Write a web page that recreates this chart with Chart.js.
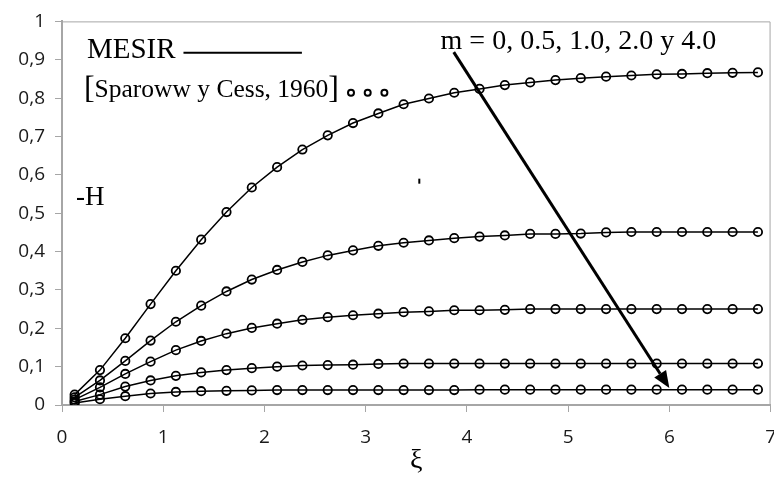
<!DOCTYPE html>
<html>
<head>
<meta charset="utf-8">
<script src="https://cdn.jsdelivr.net/npm/chart.js@4/dist/chart.umd.min.js"></script>
<style>
  html, body { margin: 0; padding: 0; background: #fff; overflow: hidden; }
  #wrap { width: 790px; height: 478px; }
</style>
</head>
<body>
<div id="wrap"><canvas id="heatChart" width="790" height="478"></canvas></div>
<script>
// xi positions of the computed points
const xi = [0.125, 0.375, 0.625, 0.875, 1.125, 1.375, 1.625, 1.875, 2.125, 2.375,
            2.625, 2.875, 3.125, 3.375, 3.625, 3.875, 4.125, 4.375, 4.625, 4.875,
            5.125, 5.375, 5.625, 5.875, 6.125, 6.375, 6.625, 6.875];

// -H for each m
const hM0 = [0.027, 0.091, 0.174, 0.263, 0.350, 0.431, 0.503, 0.567, 0.620, 0.666,
             0.703, 0.735, 0.760, 0.784, 0.799, 0.814, 0.824, 0.834, 0.841, 0.847,
             0.852, 0.856, 0.859, 0.862, 0.863, 0.865, 0.866, 0.867];
const hM05 = [0.020, 0.064, 0.115, 0.168, 0.217, 0.259, 0.296, 0.327, 0.352, 0.373,
              0.390, 0.403, 0.415, 0.423, 0.429, 0.435, 0.439, 0.442, 0.446, 0.446,
              0.447, 0.450, 0.451, 0.451, 0.451, 0.451, 0.451, 0.451];
const hM1 = [0.014, 0.046, 0.081, 0.113, 0.143, 0.167, 0.186, 0.201, 0.212, 0.222,
             0.229, 0.234, 0.238, 0.242, 0.244, 0.247, 0.247, 0.248, 0.250, 0.250,
             0.250, 0.250, 0.250, 0.250, 0.250, 0.250, 0.250, 0.250];
const hM2 = [0.009, 0.027, 0.048, 0.064, 0.076, 0.085, 0.091, 0.096, 0.100, 0.103,
             0.104, 0.105, 0.107, 0.108, 0.108, 0.108, 0.108, 0.108, 0.108, 0.108,
             0.108, 0.108, 0.108, 0.108, 0.108, 0.108, 0.108, 0.108];
const hM4 = [0.005, 0.015, 0.023, 0.030, 0.034, 0.036, 0.037, 0.038, 0.039, 0.039,
             0.039, 0.039, 0.039, 0.039, 0.039, 0.039, 0.040, 0.040, 0.040, 0.040,
             0.040, 0.040, 0.040, 0.040, 0.040, 0.040, 0.040, 0.040];

const seriesLabels = ['m = 0', 'm = 0.5', 'm = 1.0', 'm = 2.0', 'm = 4.0'];
const seriesValues = [hM0, hM05, hM1, hM2, hM4];

const xTicks = [0, 1, 2, 3, 4, 5, 6, 7];
const yTicks = [0, 0.1, 0.2, 0.3, 0.4, 0.5, 0.6, 0.7, 0.8, 0.9, 1];

const serif = "'Liberation Serif', 'Times New Roman', serif";

// frame + text annotations drawn on top of the plot
const notes = {
    id: 'notes',
    afterDraw(chart) {
        const { ctx, chartArea: a, scales } = chart;
        const px = v => scales.x.getPixelForValue(v);
        const py = v => scales.y.getPixelForValue(v);
        ctx.save();

        // top and right edges of the plot box
        ctx.strokeStyle = '#a6a6a6';
        ctx.lineWidth = 1;
        ctx.beginPath();
        ctx.moveTo(a.left, a.top + 0.5);
        ctx.lineTo(a.right - 0.5, a.top + 0.5);
        ctx.lineTo(a.right - 0.5, a.bottom);
        ctx.stroke();

        ctx.fillStyle = '#000';
        ctx.strokeStyle = '#000';
        ctx.textBaseline = 'alphabetic';
        ctx.textAlign = 'left';

        // MESIR ———
        ctx.font = '29px ' + serif;
        ctx.fillText('MESIR', px(0.246), py(0.905));
        ctx.lineWidth = 2;
        ctx.beginPath();
        ctx.moveTo(px(1.20), py(0.918));
        ctx.lineTo(px(2.37), py(0.918));
        ctx.stroke();

        // [Sparoww y Cess, 1960] o o o
        ctx.font = '32px ' + serif;
        ctx.fillText('[', px(0.217), py(0.800));
        const bw = ctx.measureText('[').width;
        ctx.font = '25.5px ' + serif;
        const s = 'Sparoww y Cess, 1960';
        ctx.fillText(s, px(0.217) + bw, py(0.802));
        const sw = ctx.measureText(s).width;
        ctx.font = '32px ' + serif;
        ctx.fillText(']', px(0.217) + bw + sw, py(0.800));
        ctx.lineWidth = 2;
        [2.855, 3.02, 3.185].forEach(x => {
            ctx.beginPath();
            ctx.arc(px(x), py(0.814), 3, 0, Math.PI * 2);
            ctx.stroke();
        });

        // -H
        ctx.font = '27px ' + serif;
        ctx.fillText('-H', px(0.138), py(0.521));

        // m = ...
        ctx.font = '28px ' + serif;
        ctx.fillText('m = 0, 0.5, 1.0, 2.0 y 4.0', px(3.74), py(0.928));

        // arrow
        const x0 = px(3.87), y0 = py(0.92), x1 = px(6.0), y1 = py(0.044);
        const ang = Math.atan2(y1 - y0, x1 - x0);
        const hl = 17, hw = 7;
        const bx = x1 - hl * Math.cos(ang), by = y1 - hl * Math.sin(ang);
        ctx.lineWidth = 3;
        ctx.beginPath();
        ctx.moveTo(x0, y0);
        ctx.lineTo(bx, by);
        ctx.stroke();
        ctx.beginPath();
        ctx.moveTo(x1, y1);
        ctx.lineTo(bx + hw * Math.sin(ang), by - hw * Math.cos(ang));
        ctx.lineTo(bx - hw * Math.sin(ang), by + hw * Math.cos(ang));
        ctx.closePath();
        ctx.fill();

        // stray mark
        ctx.fillRect(px(3.52), py(0.59), 2, 5);

        ctx.restore();
    }
};

const ctx = document.getElementById('heatChart').getContext('2d');
const heatChart = new Chart(ctx, {
    type: 'line',
    data: {
        datasets: seriesValues.map((vals, i) => ({
            label: seriesLabels[i],
            data: vals.map((v, k) => ({ x: xi[k], y: v })),
            borderColor: '#000',
            borderWidth: 1.5,
            tension: 0,
            fill: false,
            pointRadius: 4.2,
            pointBorderWidth: 1.8,
            pointBorderColor: '#000',
            pointBackgroundColor: 'rgba(0,0,0,0)'
        }))
    },
    options: {
        responsive: false,
        animation: false,
        layout: { padding: { top: 17, right: 17, left: 0, bottom: 0 } },
        plugins: {
            legend: { display: false },
            tooltip: { enabled: false }
        },
        scales: {
            x: {
                type: 'linear',
                min: 0,
                max: 7,
                afterFit: s => { s.height = 73; },
                afterBuildTicks: s => { s.ticks = xTicks.map(v => ({ value: v })); },
                grid: { drawOnChartArea: false, drawTicks: true, tickLength: 7, color: '#a6a6a6' },
                border: { color: '#a6a6a6', width: 2 },
                ticks: {
                    color: '#1a1a1a',
                    padding: 14,
                    maxRotation: 0,
                    font: { family: "'Open Sans', sans-serif", size: 19 }
                },
                title: {
                    display: true,
                    text: 'ξ',
                    color: '#000',
                    padding: { top: 0, bottom: 1 },
                    font: { family: serif, size: 28 }
                }
            },
            y: {
                min: 0,
                max: 1,
                afterFit: s => { s.width = 62; },
                afterBuildTicks: s => { s.ticks = yTicks.map(v => ({ value: v })); },
                grid: { drawOnChartArea: false, drawTicks: true, tickLength: 7, color: '#a6a6a6' },
                border: { color: '#a6a6a6', width: 2 },
                ticks: {
                    color: '#1a1a1a',
                    padding: 10,
                    font: { family: "'Open Sans', sans-serif", size: 19 },
                    callback: v => String(Math.round(v * 10) / 10).replace('.', ',')
                }
            }
        }
    },
    plugins: [notes]
});
</script>
</body>
</html>
